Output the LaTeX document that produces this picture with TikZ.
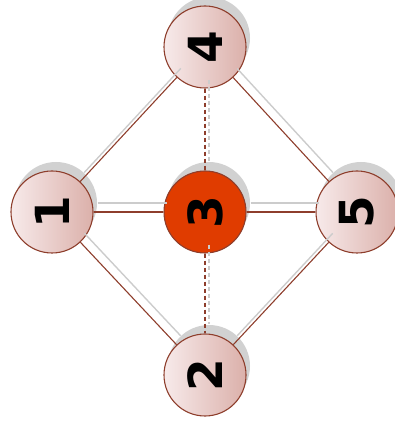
\documentclass[tikz,border=0pt]{standalone}
\usepackage{fontspec}
\setsansfont{DejaVu Sans}
\usetikzlibrary{shadows}

\definecolor{brun}{HTML}{8E3E2C}
\definecolor{lysrosa}{HTML}{F7EAEA}
\definecolor{morkrosa}{HTML}{DBB0AA}
\definecolor{oransje}{HTML}{E03C00}

\tikzset{
  sirkel/.style={circle, draw=brun, line width=1.1pt, minimum size=82pt, inner sep=0pt,
    left color=lysrosa, right color=morkrosa,
    drop shadow={shadow xshift=4pt, shadow yshift=9pt, fill=black!18, opacity=1},
    font=\sffamily\bfseries\fontsize{47}{47}\selectfont},
  midt/.style={sirkel, fill=oransje, left color=oransje, right color=oransje},
  kant/.style={draw=brun, line width=1.1pt},
  stiplet/.style={kant, dash pattern=on 4pt off 3pt},
  skygge/.style={draw=black!20, line width=1.4pt, transform canvas={shift={(4pt,9pt)}}}
}

\begin{document}
\begin{tikzpicture}[x=1pt, y=1pt]
           \useasboundingbox (0,0) rectangle (394,431);

           % Sirklene
           \node[sirkel] (n1) at (52,219) {\rotatebox{90}{1}};
           \node[midt] (n3) at (205,219) {\rotatebox{90}{3}};
           \node[sirkel] (n5) at (357,219) {\rotatebox{90}{5}};
           \node[sirkel] (n4) at (205,384) {\rotatebox{90}{4}};
           \node[sirkel] (n2) at (205,56) {\rotatebox{90}{2}};

           % Skygger
           \draw[skygge] (n1) -- (n4);
           \draw[skygge] (n4) -- (n5);
           \draw[skygge] (n5) -- (n2);
           \draw[skygge] (n2) -- (n1);
           \draw[skygge] (n1) -- (n3);
           \draw[skygge] (n3) -- (n5);
           \draw[skygge, dash pattern=on 4pt off 3pt] (n4) -- (n3);
           \draw[skygge, dash pattern=on 4pt off 3pt] (n3) -- (n2);

           % Kantene
           \draw[kant] (n1) -- (n4);
           \draw[kant] (n4) -- (n5);
           \draw[kant] (n5) -- (n2);
           \draw[kant] (n2) -- (n1);
           \draw[kant] (n1) -- (n3);
           \draw[kant] (n3) -- (n5);
           \draw[stiplet] (n4) -- (n3);
           \draw[stiplet] (n3) -- (n2);

         \end{tikzpicture}
\end{document}
